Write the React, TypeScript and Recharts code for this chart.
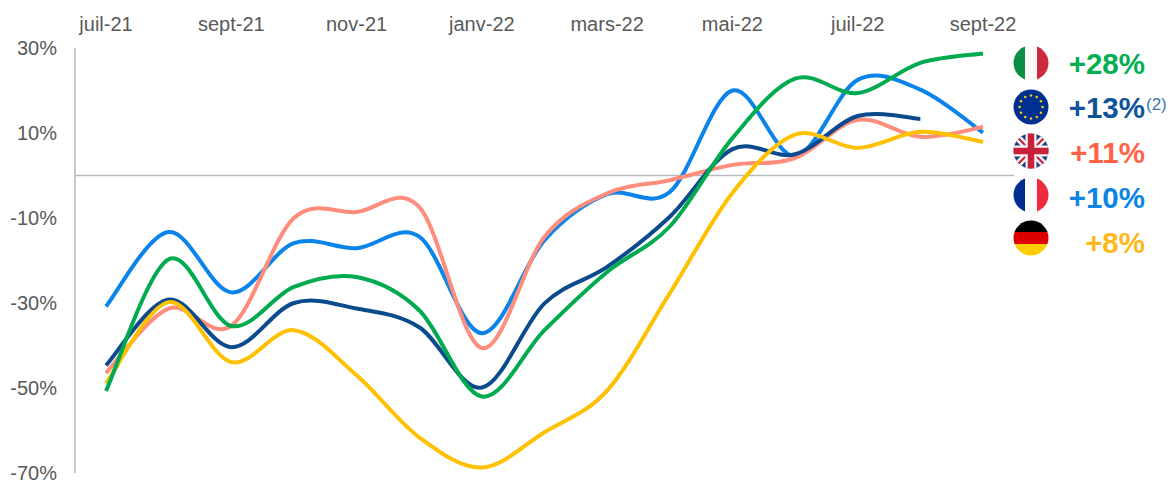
import React from 'react';
import { LineChart, Line, XAxis, YAxis, ReferenceLine } from 'recharts';

const months = ['juil-21', 'août-21', 'sept-21', 'oct-21', 'nov-21', 'déc-21', 'janv-22', 'févr-22', 'mars-22', 'avr-22', 'mai-22', 'juin-22', 'juil-22', 'août-22', 'sept-22'];
const france = [-30.8, -13.3, -27.5, -15.9, -17.1, -14.4, -37.1, -15.2, -4.4, -3.9, 20, 4.6, 22.5, 20.2, 10.1];
const italy = [-50.7, -19.7, -35.4, -26.2, -23.9, -31.7, -52, -36.4, -22.7, -12, 8.8, 22.8, 19.4, 26.5, 28.7];
const europe = [-44.7, -29.2, -40.4, -30, -31.3, -35.7, -49.9, -30.1, -21.5, -9.7, 6.2, 5, 14, 13.3, null];
const uk = [-46.5, -31.3, -35.4, -10, -8.6, -7.4, -40.6, -14.4, -4.2, -1.1, 2.5, 4.1, 13.1, 9.1, 11.4];
const germany = [-48.9, -29.8, -43.9, -36.4, -47, -61.6, -68.7, -60.4, -50.6, -27.7, -4.1, 9.6, 6.5, 10.3, 7.9];
const yTicks = [-70, -50, -30, -10, 10, 30];

const data = months.map((month, i) => ({
  month,
  france: france[i],
  italy: italy[i],
  europe: europe[i],
  uk: uk[i],
  germany: germany[i],
}));

// same kind of smoothing as the office "smooth line" option
function smoothCurve(context: any) {
  let pts: [number, number][] = [];
  return {
    areaStart() {},
    areaEnd() {},
    lineStart() {
      pts = [];
    },
    point(x: number, y: number) {
      pts.push([+x, +y]);
    },
    lineEnd() {
      if (!pts.length) return;
      context.moveTo(pts[0][0], pts[0][1]);
      for (let i = 0; i < pts.length - 1; i++) {
        const p0 = pts[i - 1] || pts[i];
        const p1 = pts[i];
        const p2 = pts[i + 1];
        const p3 = pts[i + 2] || p2;
        context.bezierCurveTo(
          p1[0] + (p2[0] - p0[0]) / 6,
          p1[1] + (p2[1] - p0[1]) / 6,
          p2[0] - (p3[0] - p1[0]) / 6,
          p2[1] - (p3[1] - p1[1]) / 6,
          p2[0],
          p2[1],
        );
      }
    },
  };
}

const tickStyle = { fill: '#595959', fontSize: 20, fontFamily: 'Liberation Sans' };

function Flag({ id, children, top }: { id: string; children: React.ReactNode; top: number }) {
  return (
    <svg width={36} height={36} viewBox="0 0 36 36" style={{ position: 'absolute', left: 1013, top }}>
      <defs>
        <clipPath id={id}>
          <circle cx={18} cy={18} r={17.5} />
        </clipPath>
      </defs>
      <g clipPath={`url(#${id})`}>{children}</g>
    </svg>
  );
}

const stars = Array.from({ length: 12 }, (_, i) => i);

const flags = [
  {
    id: 'it', top: 45,
    art: (
      <>
        <rect x={0} width={12} height={36} fill="#0b8f47" />
        <rect x={12} width={12} height={36} fill="#fafafa" />
        <rect x={24} width={12} height={36} fill="#cd2a3e" />
      </>
    ),
  },
  {
    id: 'eu', top: 89,
    art: (
      <>
        <rect width={36} height={36} fill="#00308f" />
        {stars.map(i => (
          <circle key={i} cx={18 + 11.5 * Math.cos((i * Math.PI) / 6)} cy={18 + 11.5 * Math.sin((i * Math.PI) / 6)} r={1.3} fill="#f5c518" />
        ))}
      </>
    ),
  },
  {
    id: 'gb', top: 133,
    art: (
      <>
        <rect width={36} height={36} fill="#1f3a7d" />
        <path d="M0 0L36 36M36 0L0 36" stroke="#f4f4f4" strokeWidth={7} />
        <path d="M0 0L36 36M36 0L0 36" stroke="#c8213a" strokeWidth={2} />
        <path d="M18 0V36M0 18H36" stroke="#f4f4f4" strokeWidth={11} />
        <path d="M18 0V36M0 18H36" stroke="#c8213a" strokeWidth={6.5} />
      </>
    ),
  },
  {
    id: 'fr', top: 177,
    art: (
      <>
        <rect x={0} width={12} height={36} fill="#002b8f" />
        <rect x={12} width={12} height={36} fill="#fafafa" />
        <rect x={24} width={12} height={36} fill="#ee2a3c" />
      </>
    ),
  },
  {
    id: 'de', top: 220,
    art: (
      <>
        <rect y={0} width={36} height={12} fill="#000" />
        <rect y={12} width={36} height={12} fill="#dd0000" />
        <rect y={24} width={36} height={12} fill="#ffce00" />
      </>
    ),
  },
];

const labels = [
  { text: '+28%', color: '#00b050', top: 47 },
  { text: '+13%', color: '#0f5499', top: 91 },
  { text: '+11%', color: '#ff6347', top: 136 },
  { text: '+10%', color: '#0a84e6', top: 181 },
  { text: '+8%', color: '#ffb81c', top: 226 },
];

export default function App() {
  return (
    <div style={{ position: 'absolute', left: 0, top: 0, width: 1174, height: 483, background: '#fff', overflow: 'hidden' }}>
      <LineChart width={1174} height={483} data={data} margin={{ top: 0, right: 160, bottom: 10, left: 0 }}>
        <XAxis
          dataKey="month"
          orientation="top"
          height={48}
          interval={1}
          axisLine={false}
          tickLine={false}
          tickMargin={11}
          padding={{ left: 31, right: 31 }}
          tick={tickStyle}
        />
        <YAxis
          width={75}
          domain={[-70, 30]}
          ticks={yTicks}
          interval={0}
          tickFormatter={(v: number) => `${v}%`}
          axisLine={{ stroke: '#b4bac0', strokeWidth: 1.5 }}
          tickLine={false}
          tickMargin={12}
          tick={tickStyle}
        />
        <ReferenceLine y={0} stroke="#b4bac0" strokeWidth={1.5} />
        <Line dataKey="france" type={smoothCurve as any} stroke="#0a84ea" strokeWidth={4} dot={false} isAnimationActive={false} />
        <Line dataKey="uk" type={smoothCurve as any} stroke="#ff8d7c" strokeWidth={4} dot={false} isAnimationActive={false} />
        <Line dataKey="europe" type={smoothCurve as any} stroke="#0b4a8c" strokeWidth={4} dot={false} isAnimationActive={false} />
        <Line dataKey="germany" type={smoothCurve as any} stroke="#ffc000" strokeWidth={4} dot={false} isAnimationActive={false} />
        <Line dataKey="italy" type={smoothCurve as any} stroke="#00ab50" strokeWidth={4} dot={false} isAnimationActive={false} />
      </LineChart>
      {flags.map(f => (
        <Flag key={f.id} id={f.id} top={f.top}>
          {f.art}
        </Flag>
      ))}
      {labels.map(l => (
        <div
          key={l.text}
          style={{
            position: 'absolute',
            right: 1174 - 1145,
            top: l.top,
            color: l.color,
            fontFamily: 'Liberation Sans',
            fontWeight: 700,
            fontSize: 29.5,
            lineHeight: '34px',
          }}
        >
          {l.text}
        </div>
      ))}
      <div style={{ position: 'absolute', left: 1146, top: 95, color: '#3f74ad', fontFamily: 'Liberation Sans', fontSize: 17, lineHeight: '20px' }}>(2)</div>
    </div>
  );
}
